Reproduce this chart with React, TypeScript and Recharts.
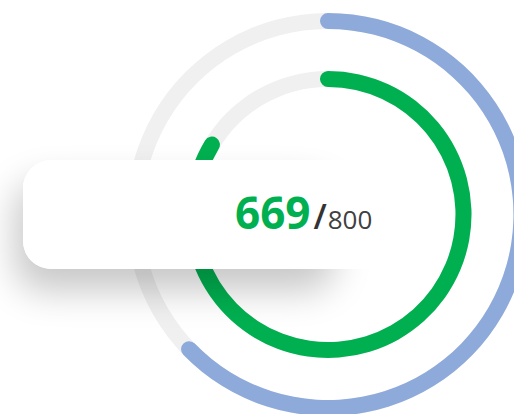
import { RadialBarChart, RadialBar, PolarAngleAxis, Cell } from "recharts";

const rings = ["score", "benchmark"];
const values = [669, 502];
const maxScore = 800;

export default function App() {
  const data = rings.map((name, i) => ({ name, value: values[i] }));
  const colors = ["#00b050", "#8eaadb"];

  return (
    <div
      style={{
        position: "absolute",
        left: 0,
        top: 0,
        width: 514,
        height: 414,
        overflow: "hidden",
        background: "#fff",
        fontFamily: "'Open Sans', sans-serif",
      }}
    >
      <RadialBarChart
        width={514}
        height={414}
        cx={328}
        cy={214.5}
        innerRadius={106.5}
        outerRadius={222.5}
        startAngle={90}
        endAngle={-270}
        barSize={16}
        data={data}
      >
        <PolarAngleAxis type="number" domain={[0, maxScore]} tick={false} axisLine={false} />
        <RadialBar
          dataKey="value"
          background={{ fill: "#f0f0f0" }}
          cornerRadius={8}
          cornerIsExternal
          isAnimationActive={false}
        >
          {data.map((d, i) => (
            <Cell key={d.name} fill={colors[i]} />
          ))}
        </RadialBar>
      </RadialBarChart>

      {/* shadow only under the left part of the card, fades out to the right */}
      <div
        style={{
          position: "absolute",
          left: 23,
          top: 160,
          width: 320,
          height: 109,
          borderRadius: 28,
          background: "#fff",
          boxShadow: "-8px 22px 36px rgba(0,0,0,0.22)",
        }}
      />
      <div
        style={{
          position: "absolute",
          left: 23,
          top: 160,
          width: 405,
          height: 109,
          borderRadius: 28,
          background: "#fff",
        }}
      >
        <div style={{ position: "absolute", left: 212, top: 22, whiteSpace: "nowrap" }}>
          <span style={{ fontSize: 44, fontWeight: 700, color: "#00b050" }}>{values[0]}</span>
          <span style={{ fontSize: 34, color: "#333", fontWeight: 600, marginLeft: 3 }}>/</span>
          <span style={{ fontSize: 26, color: "#404040", marginLeft: 1 }}>{maxScore}</span>
        </div>
      </div>
    </div>
  );
}
